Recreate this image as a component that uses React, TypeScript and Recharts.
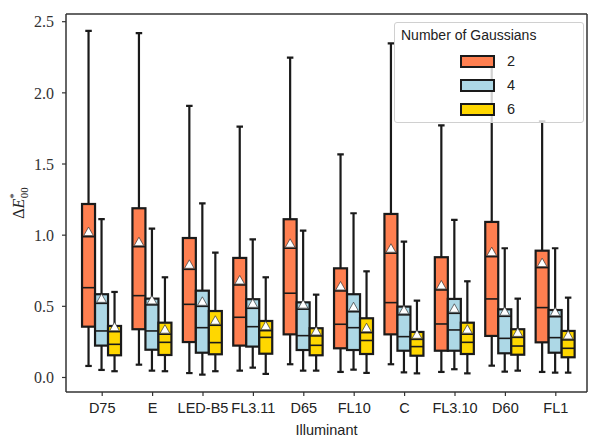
import React from 'react';
import { ComposedChart, Bar, XAxis, YAxis, Legend, CartesianGrid } from 'recharts';

const illuminants = ['D75', 'E', 'LED-B5', 'FL3.11', 'D65', 'FL10', 'C', 'FL3.10', 'D60', 'FL1'];
const yTicks = [0, 0.5, 1.0, 1.5, 2.0, 2.5];
const seriesNames = ['2', '4', '6'];
const seriesColors = ['#FF7F50', '#ADD8E6', '#FFD700'];

// Number of Gaussians = 2
const g2Min = [0.081, 0.09, 0.031, 0.048, 0.093, 0.039, 0.093, 0.039, 0.083, 0.039];
const g2Q1 = [0.357, 0.339, 0.249, 0.224, 0.303, 0.205, 0.303, 0.188, 0.292, 0.247];
const g2Median = [0.631, 0.575, 0.514, 0.423, 0.592, 0.374, 0.526, 0.376, 0.552, 0.491];
const g2Mean = [0.99, 0.919, 0.76, 0.65, 0.908, 0.608, 0.873, 0.615, 0.849, 0.772];
const g2Q3 = [1.219, 1.189, 0.98, 0.84, 1.112, 0.767, 1.149, 0.845, 1.093, 0.891];
const g2Max = [2.435, 2.419, 1.908, 1.763, 2.247, 1.568, 2.348, 1.772, 2.24, 1.8];

// Number of Gaussians = 4
const g4Min = [0.053, 0.048, 0.02, 0.069, 0.048, 0.055, 0.036, 0.058, 0.041, 0.034];
const g4Q1 = [0.224, 0.195, 0.174, 0.217, 0.193, 0.193, 0.188, 0.188, 0.17, 0.174];
const g4Median = [0.327, 0.327, 0.35, 0.357, 0.294, 0.35, 0.287, 0.334, 0.275, 0.28];
const g4Mean = [0.521, 0.51, 0.5, 0.486, 0.48, 0.462, 0.44, 0.451, 0.43, 0.427];
const g4Q3 = [0.585, 0.554, 0.61, 0.55, 0.528, 0.585, 0.498, 0.552, 0.479, 0.474];
const g4Max = [1.112, 1.046, 1.224, 0.971, 1.032, 1.154, 0.954, 1.107, 0.908, 0.908];

// Number of Gaussians = 6
const g6Min = [0.044, 0.044, 0.044, 0.025, 0.048, 0.032, 0.029, 0.029, 0.048, 0.034];
const g6Q1 = [0.156, 0.158, 0.163, 0.167, 0.156, 0.165, 0.153, 0.165, 0.16, 0.142];
const g6Median = [0.233, 0.247, 0.245, 0.282, 0.226, 0.26, 0.217, 0.247, 0.221, 0.205];
const g6Mean = [0.322, 0.304, 0.367, 0.329, 0.292, 0.315, 0.268, 0.304, 0.282, 0.264];
const g6Q3 = [0.362, 0.385, 0.467, 0.397, 0.346, 0.416, 0.32, 0.385, 0.339, 0.327];
const g6Max = [0.601, 0.704, 0.877, 0.704, 0.582, 0.746, 0.54, 0.676, 0.554, 0.561];

const stats = (mn: number[], q1: number[], md: number[], me: number[], q3: number[], mx: number[], i: number) => ({
  min: mn[i], q1: q1[i], med: md[i], mean: me[i], q3: q3[i], max: mx[i],
});

const rows = illuminants.map((name, i) => ({
  name,
  g2: stats(g2Min, g2Q1, g2Median, g2Mean, g2Q3, g2Max, i),
  g4: stats(g4Min, g4Q1, g4Median, g4Mean, g4Q3, g4Max, i),
  g6: stats(g6Min, g6Q1, g6Median, g6Mean, g6Q3, g6Max, i),
}));

const EDGE = '#1a1a1a';
const SANS = "'Liberation Sans', Arial, sans-serif";
const SERIF = "'Liberation Serif', 'DejaVu Serif', serif";

function makeBoxShape(key: 'g2' | 'g4' | 'g6', color: string) {
  return (props: any) => {
    const { x, y, width, height, payload } = props;
    const s = payload[key];
    if (!s || !isFinite(y) || !isFinite(height)) return <g />;
    const top = Math.min(y, y + height);
    const bottom = Math.max(y, y + height);
    const k = (bottom - top) / (s.max - s.min);
    const py = (v: number) => top + (s.max - v) * k;
    const cx = x + width / 2;
    const capHalf = width / 4;
    const yq3 = py(s.q3);
    const yq1 = py(s.q1);
    const ym = py(s.mean);
    const tri = `${cx},${ym - 9.5} ${cx - 4.8},${ym - 1} ${cx + 4.8},${ym - 1}`;
    return (
      <g>
        <line x1={cx} x2={cx} y1={py(s.max)} y2={yq3} stroke={EDGE} strokeWidth={2.2} />
        <line x1={cx} x2={cx} y1={yq1} y2={py(s.min)} stroke={EDGE} strokeWidth={2.2} />
        <line x1={cx - capHalf} x2={cx + capHalf} y1={py(s.max)} y2={py(s.max)} stroke={EDGE} strokeWidth={2.2} />
        <line x1={cx - capHalf} x2={cx + capHalf} y1={py(s.min)} y2={py(s.min)} stroke={EDGE} strokeWidth={2.2} />
        <rect x={x} y={yq3} width={width} height={yq1 - yq3} fill={color} stroke={EDGE} strokeWidth={2.2} />
        <line x1={x} x2={x + width} y1={py(s.med)} y2={py(s.med)} stroke={EDGE} strokeWidth={1.6} />
        <line x1={x} x2={x + width} y1={ym} y2={ym} stroke={EDGE} strokeWidth={1.6} />
        <polygon points={tri} fill="#ffffff" stroke="#333" strokeWidth={0.7} />
      </g>
    );
  };
}

const YLabel = () => (
  <text
    x={24}
    y={203}
    transform="rotate(-90, 24, 203)"
    textAnchor="middle"
    fontFamily={SERIF}
    fontSize={16}
    fill="#222"
  >
    <tspan>Δ</tspan>
    <tspan fontStyle="italic">E</tspan>
    <tspan fontSize={11} dy={-7}>*</tspan>
    <tspan fontSize={11} dx={-5} dy={11}>00</tspan>
  </text>
);

const LegendBox = () => (
  <div
    style={{
      position: 'absolute',
      left: 394,
      top: 22,
      width: 190,
      height: 101,
      background: 'rgba(255,255,255,0.8)',
      border: '1px solid #d0d0d0',
      borderRadius: 3,
      boxSizing: 'border-box',
      fontFamily: SANS,
      color: '#222',
      pointerEvents: 'none',
    }}
  >
    <div style={{ position: 'absolute', left: 6, top: 3, fontSize: 14, lineHeight: '18px', whiteSpace: 'nowrap' }}>
      Number of Gaussians
    </div>
    {seriesNames.map((n, i) => (
      <React.Fragment key={n}>
        <div
          style={{
            position: 'absolute',
            left: 65,
            top: 32 + i * 24,
            width: 35,
            height: 13,
            boxSizing: 'border-box',
            background: seriesColors[i],
            border: `2px solid ${EDGE}`,
          }}
        />
        <div style={{ position: 'absolute', left: 112, top: 29 + i * 24, fontSize: 14.5, lineHeight: '18px' }}>{n}</div>
      </React.Fragment>
    ))}
  </div>
);

export default function App() {
  const keys: ('g2' | 'g4' | 'g6')[] = ['g2', 'g4', 'g6'];
  return (
    <div style={{ position: 'absolute', left: 0, top: 0, width: 592, height: 437, background: '#fff' }}>
      <ComposedChart
        width={592}
        height={437}
        data={rows}
        margin={{ top: 14, right: 5, bottom: 0, left: 0 }}
        barCategoryGap="10%"
        barGap={0}
      >
        <CartesianGrid
          stroke="#333"
          strokeWidth={1.5}
          horizontalCoordinatesGenerator={({ offset }: any) => [offset.top]}
          verticalCoordinatesGenerator={({ offset }: any) => [offset.left + offset.width]}
        />
        <XAxis
          dataKey="name"
          type="category"
          height={45}
          padding={{ left: 11, right: 6 }}
          tickSize={4}
          tickMargin={7}
          stroke="#333"
          axisLine={{ stroke: '#333', strokeWidth: 1.5 }}
          tickLine={{ stroke: '#333', strokeWidth: 1.2 }}
          tick={{ fill: '#222', fontSize: 14.5, fontFamily: SANS }}
          interval={0}
          label={{ value: 'Illuminant', position: 'insideBottom', offset: 2, fill: '#222', fontSize: 14.5, fontFamily: SANS }}
        />
        <YAxis
          type="number"
          domain={[-0.102, 2.554]}
          allowDataOverflow
          ticks={yTicks}
          width={66}
          tickSize={4}
          tickMargin={8}
          tickFormatter={(v: number) => v.toFixed(1)}
          axisLine={{ stroke: '#333', strokeWidth: 1.5 }}
          tickLine={{ stroke: '#333', strokeWidth: 1.2 }}
          tick={{ fill: '#333', fontSize: 16, fontFamily: SERIF }}
          label={<YLabel />}
        />
        {keys.map((k, i) => (
          <Bar
            key={k}
            name={seriesNames[i]}
            dataKey={(d: any) => [d[k].min, d[k].max]}
            fill={seriesColors[i]}
            isAnimationActive={false}
            shape={makeBoxShape(k, seriesColors[i])}
          />
        ))}
        <Legend
          layout="vertical"
          align="center"
          verticalAlign="middle"
          wrapperStyle={{ position: 'absolute', left: 0, top: 0, width: 0, height: 0 }}
          content={() => <LegendBox />}
        />
      </ComposedChart>
    </div>
  );
}
